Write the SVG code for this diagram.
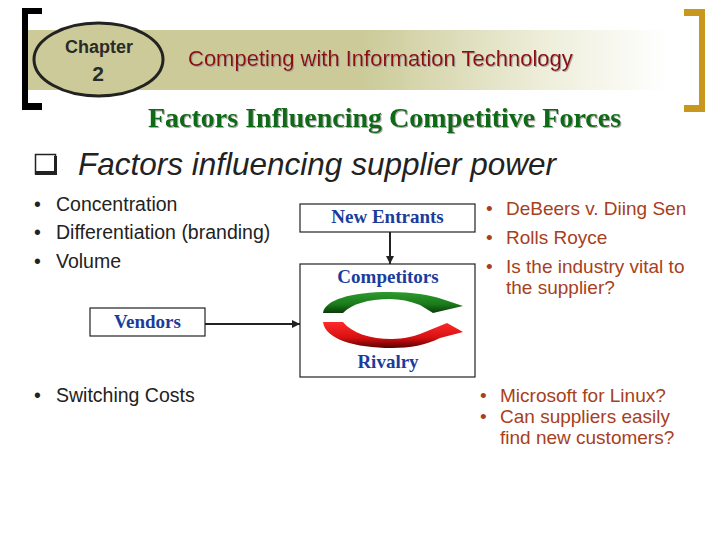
<svg xmlns="http://www.w3.org/2000/svg" width="720" height="540" viewBox="0 0 720 540">
<style>
.sans{font-family:"Liberation Sans",Arial,sans-serif}
.serif{font-family:"Liberation Serif","Times New Roman",serif}
.box{fill:#fff;stroke:#222;stroke-width:1.2}
.lbl{font-family:"Liberation Serif","Times New Roman",serif;font-weight:bold;font-size:19px;fill:#1A3C9C;text-anchor:middle}
.lst{font-family:"Liberation Sans",Arial,sans-serif;font-size:19.5px;fill:#222}
.rst{font-family:"Liberation Sans",Arial,sans-serif;font-size:19px;fill:#A8401C}
.conn{stroke:#222;stroke-width:2;fill:none}
</style>
<defs>
<linearGradient id="band" x1="0" y1="0" x2="1" y2="0">
<stop offset="0" stop-color="#CBCA98"/>
<stop offset="0.52" stop-color="#CBCA98"/>
<stop offset="0.8" stop-color="#EDEDD9"/>
<stop offset="1" stop-color="#FFFFFF"/>
</linearGradient>
<linearGradient id="grn" x1="0" y1="0" x2="0" y2="1">
<stop offset="0" stop-color="#2E9A2E"/>
<stop offset="0.6" stop-color="#1A7A1A"/>
<stop offset="1" stop-color="#0A3A0A"/>
</linearGradient>
<linearGradient id="red" x1="0" y1="0" x2="0" y2="1">
<stop offset="0" stop-color="#FF2A2A"/>
<stop offset="0.6" stop-color="#D81010"/>
<stop offset="1" stop-color="#5A0000"/>
</linearGradient>
<filter id="sh" x="-5%" y="-20%" width="110%" height="150%">
<feDropShadow dx="1" dy="1" stdDeviation="0.6" flood-color="#999" flood-opacity="0.8"/>
</filter>
<marker id="ah" viewBox="0 0 10 10" refX="10" refY="5" markerWidth="4" markerHeight="4" orient="auto">
<path d="M0,0 L10,5 L0,10 Z" fill="#222"/>
</marker>
</defs>
<rect width="720" height="540" fill="#fff"/>

<g id="header">
<rect x="28" y="30" width="640" height="60" fill="url(#band)"/>
<path d="M22,8 H42 V14 H28 V103 H42 V110 H22 Z" fill="#000"/>
<path d="M684,9 H705 V112 H684 V105 H699 V16 H684 Z" fill="#C8981E"/>
<ellipse cx="98.5" cy="59.5" rx="64.5" ry="36.5" fill="#CBCA98" stroke="#222" stroke-width="3"/>
<text x="99" y="53" class="sans" font-size="18" font-weight="bold" fill="#2A2A2A" text-anchor="middle">Chapter</text>
<text x="98" y="81" class="sans" font-size="21" font-weight="bold" fill="#2A2A2A" text-anchor="middle">2</text>
<text x="188" y="66" class="sans" font-size="22" fill="#8B0A0A" filter="url(#sh)">Competing with Information Technology</text>
<text x="148" y="127" class="serif" font-size="28" font-weight="bold" fill="#0E6A12" filter="url(#sh)">Factors Influencing Competitive Forces</text>
</g>

<g id="subheading">
<rect x="35.5" y="154.5" width="20" height="19" fill="none" stroke="#222" stroke-width="1.5"/>
<rect x="35" y="171" width="22" height="4" fill="#222"/>
<rect x="54" y="156" width="3" height="19" fill="#222"/>
<text x="78" y="175" class="sans" font-size="31.5" font-style="italic" fill="#222">Factors influencing supplier power</text>
</g>

<g id="left-list">
<text x="34" y="211" class="lst">•</text><text x="56" y="211" class="lst">Concentration</text>
<text x="34" y="239" class="lst">•</text><text x="56" y="239" class="lst">Differentiation (branding)</text>
<text x="34" y="268" class="lst">•</text><text x="56" y="268" class="lst">Volume</text>
<text x="34" y="402" class="lst">•</text><text x="56" y="402" class="lst">Switching Costs</text>
</g>

<g id="right-list">
<text x="486" y="215" class="rst">•</text><text x="506" y="215" class="rst">DeBeers v. Diing Sen</text>
<text x="486" y="244" class="rst">•</text><text x="506" y="244" class="rst">Rolls Royce</text>
<text x="486" y="273" class="rst">•</text><text x="506" y="273" class="rst">Is the industry vital to</text>
<text x="506" y="294" class="rst">the supplier?</text>
<text x="480" y="402" class="rst">•</text><text x="500" y="402" class="rst">Microsoft for Linux?</text>
<text x="480" y="423" class="rst">•</text><text x="500" y="423" class="rst">Can suppliers easily</text>
<text x="500" y="444" class="rst">find new customers?</text>
</g>

<g id="vendors">
<rect x="90" y="308" width="115" height="28" class="box"/>
<text x="147.5" y="328" class="lbl">Vendors</text>
</g>

<g id="new-entrants">
<rect x="300" y="204" width="175" height="28" class="box"/>
<text x="387.5" y="223" class="lbl">New Entrants</text>
</g>

<g id="competitors">
<rect x="300" y="264" width="175" height="113" class="box"/>
<text x="388" y="283" class="lbl">Competitors</text>
<path d="M323,313 C325,300 350,292 390,292 C412,292 430,295 442,299 L463,306 L433,313 L420,305 C410,301 400,299 390,299 C368,299 352,304 343,313 Z" fill="url(#grn)"/>
<path d="M323,322 L343,322 C352,333 370,339 392,339 C404,339 414,336 420,334 L447,323 L463,332 L440,338 C426,345 410,348 392,348 C355,348 325,339 323,322 Z" fill="url(#red)"/>
<text x="388" y="368" class="lbl">Rivalry</text>
</g>

<g id="connectors">
<line x1="205" y1="324" x2="300" y2="324" class="conn" marker-end="url(#ah)"/>
<line x1="390" y1="232" x2="390" y2="264" class="conn" marker-end="url(#ah)"/>
</g>
</svg>
